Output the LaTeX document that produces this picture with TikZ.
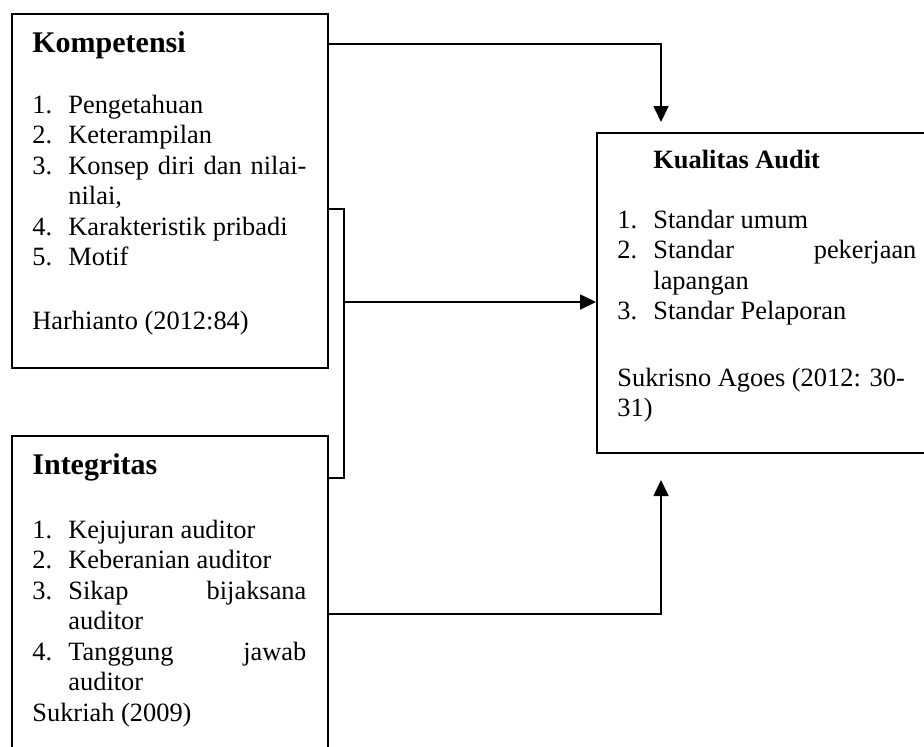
\documentclass[tikz,border=0pt]{standalone}
\usepackage{fontspec}
\setmainfont{Liberation Serif}
\usetikzlibrary{arrows.meta}

\newcommand{\itm}[2]{\noindent\hangindent=18pt\hangafter=1\makebox[18pt][l]{#1}#2\par}

\begin{document}
\begin{tikzpicture}[
  x=0.5pt, y=-0.5pt,
  box/.style={draw, line width=0.8pt, anchor=north west, inner sep=0pt},
  head/.style={anchor=base west, inner sep=0pt, font=\fontsize{15}{18}\selectfont\bfseries},
  body/.style={anchor=base west, inner sep=0pt, text width=137pt, align=justify,
    font=\fontsize{13.2}{15.25}\selectfont},
  arrow/.style={-{Triangle[width=7.5pt,length=8pt]}, line width=0.85pt},
  link/.style={line width=0.85pt},
]
\useasboundingbox (0,0) rectangle (924,746);
\clip (0,0) rectangle (924,746);

% ---- left top: Kompetensi ----
\node[box, minimum width=158pt, minimum height=177pt] (komp) at (11,13) {};
\node[head] (kompH) at (32,52) {Kompetensi};
\node[body] (kompL) at (32,113) {%
  \itm{1.}{Pengetahuan}%
  \itm{2.}{Keterampilan}%
  \itm{3.}{Konsep diri dan nilai-\linebreak nilai,}%
  \itm{4.}{Karakteristik pribadi}%
  \itm{5.}{Motif}%
  \vspace{16.5pt}\noindent Harhianto (2012:84)};

% ---- left bottom: Integritas ----
\node[box, minimum width=158pt, minimum height=170pt] (integ) at (11,435) {};
\node[head] (integH) at (32,474) {Integritas};
\node[body] (integL) at (32,538) {%
  \itm{1.}{Kejujuran auditor}%
  \itm{2.}{Keberanian auditor}%
  \itm{3.}{Sikap bijaksana\linebreak auditor}%
  \itm{4.}{Tanggung jawab\linebreak auditor}%
  \noindent Sukriah (2009)};

% ---- right: Kualitas Audit ----
\node[box, minimum width=180pt, minimum height=160pt] (kual) at (596,132) {};
\node[head, font=\fontsize{13.2}{15.25}\selectfont\bfseries] (kualH) at (653,168) {Kualitas Audit};
\node[body, text width=149.5pt] (kualL) at (617,228) {%
  \itm{1.}{Standar umum}%
  \itm{2.}{Standar pekerjaan\linebreak lapangan}%
  \itm{3.}{Standar Pelaporan}%
  \vspace{18pt}\noindent Sukrisno Agoes (2012: 30-\newline 31)};

% ---- connectors ----
\coordinate (kualTop) at (661,122);
\coordinate (kualBot) at (661,480);
\coordinate (join) at (344,302);
\draw[arrow] ([yshift=-15.5pt]komp.north east) -| (kualTop);
\draw[link] ([yshift=-98pt]komp.north east) -| (join) |- ([yshift=-21.5pt]integ.north east);
\draw[arrow] (join) -- (join -| kual.west);
\draw[arrow] ([yshift=-89.5pt]integ.north east) -| (kualBot);

\end{tikzpicture}
\end{document}
